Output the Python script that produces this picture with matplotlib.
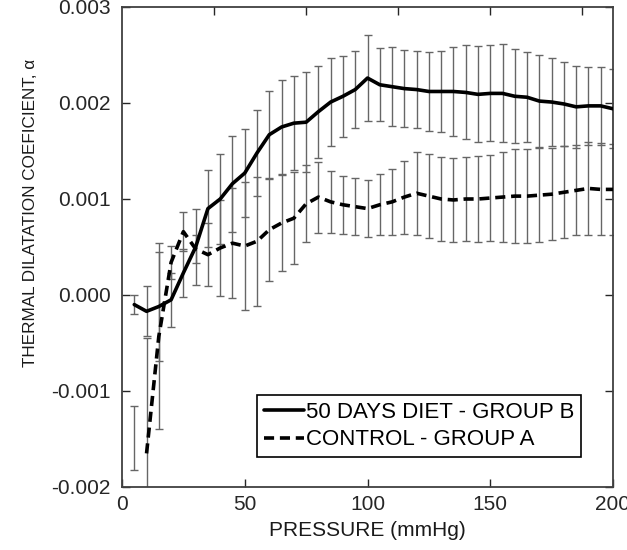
import matplotlib
matplotlib.use("Agg")
import matplotlib.pyplot as plt
import numpy as np

plt.rcParams['font.family'] = ['Liberation Sans', 'DejaVu Sans']

# pressure steps (mmHg)
pressure = np.arange(5, 205, 5)

# 50 days diet - group B (solid)
group_b = [-0.00010, -0.00017, -0.00012, -0.00005, 0.00023, 0.00050, 0.00090, 0.00100,
           0.00116, 0.00127, 0.00148, 0.00167, 0.00175, 0.00179, 0.00180, 0.00191,
           0.00201, 0.00207, 0.00214, 0.00226, 0.00219, 0.00217, 0.00215, 0.00214,
           0.00212, 0.00212, 0.00212, 0.00211, 0.00209, 0.00210, 0.00210, 0.00207,
           0.00206, 0.00202, 0.00201, 0.00199, 0.00196, 0.00197, 0.00197, 0.00194]
group_b_err = [0.00010, 0.00026, 0.00057, 0.00028, 0.00025, 0.00040, 0.00040, 0.00047,
               0.00050, 0.00046, 0.00045, 0.00045, 0.00049, 0.00049, 0.00052, 0.00048,
               0.00046, 0.00042, 0.00040, 0.00045, 0.00038, 0.00041, 0.00040, 0.00040,
               0.00041, 0.00042, 0.00046, 0.00049, 0.00050, 0.00050, 0.00051, 0.00049,
               0.00047, 0.00048, 0.00046, 0.00044, 0.00043, 0.00041, 0.00041, 0.00041]

# control - group A (dashed)
group_a = [-0.00149, -0.00165, -0.00043, 0.00034, 0.00066, 0.00048, 0.00042, 0.00049,
           0.00054, 0.00051, 0.00056, 0.00068, 0.00075, 0.00080, 0.00095, 0.00102,
           0.00097, 0.00094, 0.00092, 0.00090, 0.00094, 0.00097, 0.00102, 0.00106,
           0.00103, 0.00100, 0.00099, 0.00100, 0.00100, 0.00101, 0.00102, 0.00103,
           0.00103, 0.00104, 0.00105, 0.00107, 0.00109, 0.00111, 0.00110, 0.00110]
group_a_err = [0.00033, 0.00120, 0.00097, 0.00017, 0.00020, 0.00015, 0.00033, 0.00050,
               0.00057, 0.00067, 0.00067, 0.00053, 0.00050, 0.00048, 0.00040, 0.00037,
               0.00032, 0.00030, 0.00030, 0.00030, 0.00032, 0.00034, 0.00038, 0.00043,
               0.00044, 0.00044, 0.00044, 0.00044, 0.00045, 0.00045, 0.00047, 0.00049,
               0.00049, 0.00049, 0.00048, 0.00048, 0.00047, 0.00048, 0.00048, 0.00047]

top_ticks = [37.5, 75, 112.5, 150, 187.5]

fig = plt.figure(figsize=(6.27, 5.5), dpi=100)
ax = fig.add_axes([122/627, 1-487/550, 491/627, 480/550])

# error bars (grey, thin)
ax.errorbar(pressure, group_b, yerr=group_b_err, fmt='none', ecolor='0.4',
            elinewidth=1.0, capsize=3, capthick=1.0, zorder=2)
ax.errorbar(pressure, group_a, yerr=group_a_err, fmt='none', ecolor='0.4',
            elinewidth=1.0, capsize=3, capthick=1.0, zorder=2)

# mean curves
ax.plot(pressure, group_b, color='black', lw=2.6, solid_capstyle='round',
        label='50 DAYS DIET - GROUP B', zorder=3)
ax.plot(pressure[1:], group_a[1:], color='black', lw=2.6, linestyle=(0, (2.8, 1.6)),
        label='CONTROL - GROUP A', zorder=3)

ax.set_xlim(0, 200)
ax.set_ylim(-0.002, 0.003)
ax.set_xticks([0, 50, 100, 150, 200])
ax.set_yticks([-0.002, -0.001, 0.0, 0.001, 0.002, 0.003])
ax.set_yticklabels(['-0.002', '-0.001', '0.000', '0.001', '0.002', '0.003'])
ax.tick_params(direction='in', length=6, width=1, labelsize=15, colors='0.15',
               right=True, top=False)
ax.tick_params(axis='x', pad=6)
ax.tick_params(axis='y', pad=8)
for sp in ax.spines.values():
    sp.set_linewidth(1.3)
    sp.set_color('0.25')

# top axis has its own tick spacing
ax_top = ax.twiny()
ax_top.set_xlim(0, 200)
ax_top.set_xticks(top_ticks)
ax_top.set_xticklabels([])
ax_top.tick_params(direction='in', length=6, width=1, colors='0.15')
for sp in ax_top.spines.values():
    sp.set_visible(False)

ax.set_xlabel('PRESSURE (mmHg)', fontsize=15, color='0.1')
ax.xaxis.set_label_coords(0.5, -0.071)
ax.xaxis.label.set_va('top')
fig.text(31/627, 1-213/550, 'THERMAL DILATATION COEFICIENT, \u03b1', rotation=90,
         fontsize=12.3, color='0.1', ha='center', va='center')

leg = ax.legend(loc='lower left', bbox_to_anchor=(0.275, 0.0625), fontsize=16,
                frameon=True, fancybox=False, edgecolor='black', framealpha=1,
                handlelength=1.8, handletextpad=0.1, borderpad=0.3,
                labelspacing=0.3, borderaxespad=0)
leg.get_frame().set_linewidth(1.2)

fig.savefig('out.png', dpi=100)
